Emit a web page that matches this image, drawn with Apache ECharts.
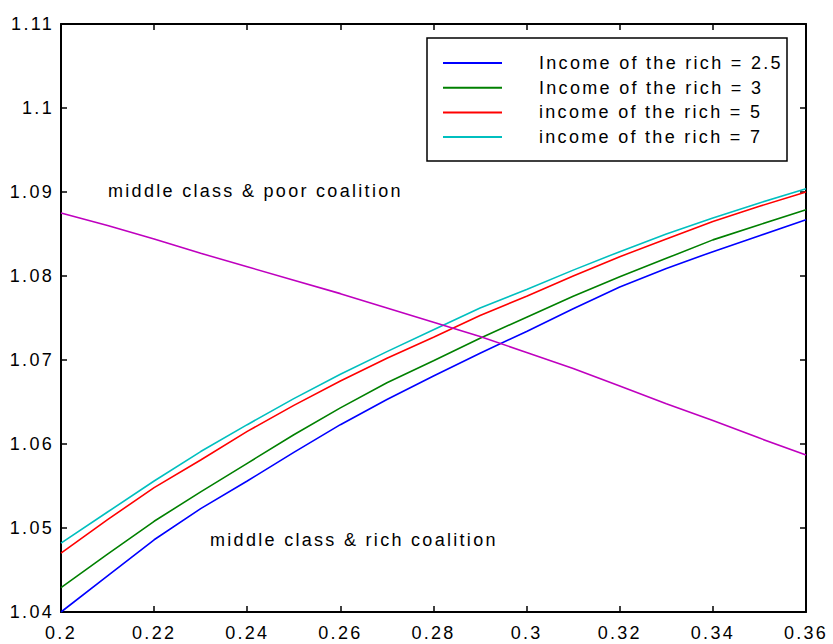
<!DOCTYPE html>
<html><head><meta charset="utf-8">
<script src="https://cdn.jsdelivr.net/npm/echarts@6/dist/echarts.min.js"></script>
<style>html,body{margin:0;padding:0;background:#fff}#c{width:833px;height:644px}#c text{letter-spacing:2.3px}</style>
</head><body><div id="c"></div>
<script>
const xValues = [0.20,0.21,0.22,0.23,0.24,0.25,0.26,0.27,0.28,0.29,0.30,0.31,0.32,0.33,0.34,0.35,0.36];
const rich25 = [1.0400,1.0443,1.0486,1.0523,1.0556,1.0590,1.0623,1.0653,1.0681,1.0708,1.0734,1.0761,1.0787,1.0809,1.0829,1.0848,1.0867];
const rich3  = [1.0429,1.0469,1.0508,1.0543,1.0577,1.0611,1.0643,1.0673,1.0699,1.0726,1.0751,1.0776,1.0799,1.0821,1.0843,1.0861,1.0879];
const rich5  = [1.0470,1.0510,1.0548,1.0581,1.0615,1.0646,1.0675,1.0702,1.0727,1.0753,1.0776,1.0800,1.0823,1.0844,1.0865,1.0883,1.0900];
const rich7  = [1.0482,1.0519,1.0556,1.0591,1.0623,1.0654,1.0683,1.0710,1.0736,1.0762,1.0784,1.0807,1.0829,1.0850,1.0869,1.0887,1.0904];
const poorCoalition = [1.0875,1.0860,1.0844,1.0827,1.0811,1.0795,1.0779,1.0762,1.0745,1.0728,1.0709,1.0690,1.0669,1.0648,1.0628,1.0607,1.0587];
const seriesNames = ['Income of the rich = 2.5','Income of the rich = 3','income of the rich = 5','income of the rich = 7'];
const seriesColors = ['#0000ff','#008000','#ff0000','#00bfbf'];
const annotations = ['middle class & poor coalition','middle class & rich coalition'];

const font = 'Liberation Sans, Arial, Helvetica, sans-serif';
const pair = arr => xValues.map((x,i)=>[x,arr[i]]);
const richSets = [rich25,rich3,rich5,rich7];
const series = richSets.map((d,i)=>({
  name: seriesNames[i], type:'line', data: pair(d), showSymbol:false, symbol:'none',
  lineStyle:{color:seriesColors[i], width:1.6}, itemStyle:{color:seriesColors[i]}, animation:false
}));
series.push({name:'poor', type:'line', data: pair(poorCoalition), showSymbol:false, symbol:'none',
  lineStyle:{color:'#bf00bf', width:1.6}, itemStyle:{color:'#bf00bf'}, animation:false});

const axisLine = {show:true, lineStyle:{color:'#000', width:2}};
const tick = {show:true, inside:true, length:6, lineStyle:{color:'#000', width:1.5}};
const lbl = {color:'#000', fontSize:18, fontFamily:font};

const chart = echarts.init(document.getElementById('c'), null, {renderer:'svg'});
chart.setOption({
  animation:false,
  backgroundColor:'#fff',
  grid:{left:61, right:27, top:24, bottom:32, containLabel:false},
  xAxis:[
    {type:'value', min:0.2, max:0.36, interval:0.02, axisLine, axisTick:tick, splitLine:{show:false},
     axisLabel:{...lbl, margin:12, showMaxLabel:true, showMinLabel:true}},
    {type:'value', position:'top', min:0.2, max:0.36, interval:0.02, axisLine, axisTick:tick, splitLine:{show:false}, axisLabel:{show:false}}
  ],
  yAxis:[
    {type:'value', min:1.04, max:1.11, interval:0.01, axisLine, axisTick:tick, splitLine:{show:false},
     axisLabel:{...lbl, margin:7}},
    {type:'value', position:'right', min:1.04, max:1.11, interval:0.01, axisLine, axisTick:tick, splitLine:{show:false}, axisLabel:{show:false}}
  ],
  legend:{
    data: seriesNames.map((n,i)=>({name:n, itemStyle:{color:seriesColors[i]}})),
    orient:'vertical', left:443, top:54, padding:0, itemGap:6.7,
    itemWidth:59, itemHeight:14, icon:'path://M0,0L59,0L59,2L0,2Z',
    textStyle:{color:'#000', fontSize:18, fontFamily:font, padding:[0,0,0,32]},
    selectedMode:false
  },
  graphic:[
    {type:'rect', shape:{x:427, y:38, width:360, height:123}, style:{fill:'none', stroke:'#000', lineWidth:1.5}, z:10},
    {type:'text', left:108, top:182, style:{text:annotations[0], font:'18px '+font, fill:'#000'}},
    {type:'text', left:210, top:531, style:{text:annotations[1], font:'18px '+font, fill:'#000'}}
  ],
  series
});
</script></body></html>
